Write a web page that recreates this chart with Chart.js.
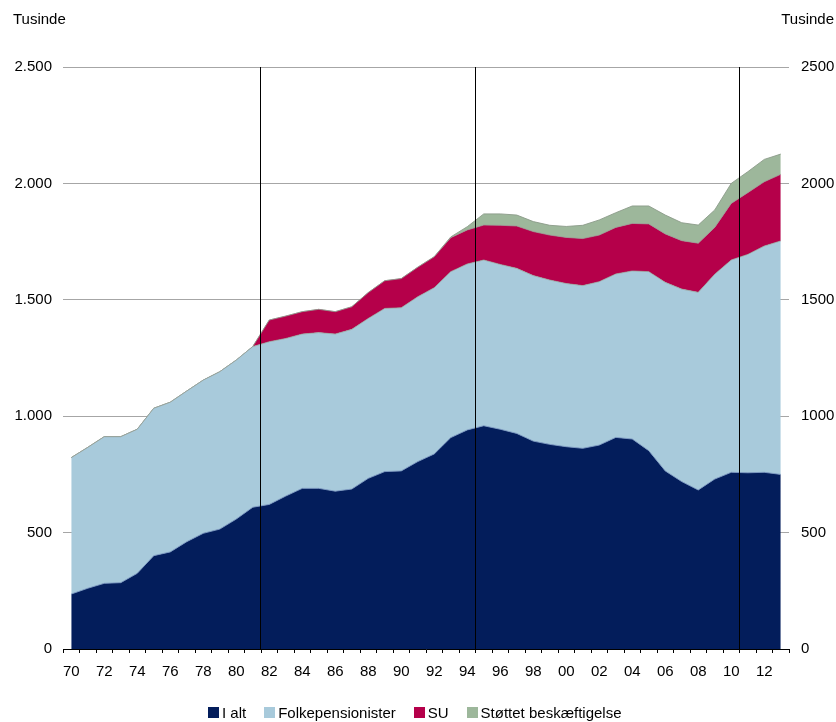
<!DOCTYPE html>
<html lang="da">
<head>
<meta charset="utf-8">
<script src="https://cdn.jsdelivr.net/npm/chart.js@4.4.1/dist/chart.umd.min.js"></script>
<style>
  body { margin: 0; background: #fff; font-family: "Liberation Sans", Arial, sans-serif; }
  #wrap { position: relative; width: 836px; height: 722px; }
  #legend { position: absolute; left: 208px; top: 704px; display: flex; align-items: center; font-size: 15px; color: #000; }
  #legend .item { display: flex; align-items: center; margin-right: 18px; }
  #legend .box { width: 11px; height: 11px; margin-right: 3px; }
</style>
</head>
<body>
<div id="wrap">
  <canvas id="chart"></canvas>
  <div id="legend"></div>
</div>
<script>
const years = ['1970','1971','1972','1973','1974','1975','1976','1977','1978','1979',
  '1980','1981','1982','1983','1984','1985','1986','1987','1988','1989',
  '1990','1991','1992','1993','1994','1995','1996','1997','1998','1999',
  '2000','2001','2002','2003','2004','2005','2006','2007','2008','2009',
  '2010','2011','2012','2013'];

const tickLabels = ['70','','72','','74','','76','','78','',
  '80','','82','','84','','86','','88','',
  '90','','92','','94','','96','','98','',
  '00','','02','','04','','06','','08','',
  '10','','12',''];

// tusinde personer
const iAlt = [236, 261, 282, 285, 325, 401, 417, 461, 497, 515,
  558, 609, 621, 657, 690, 690, 678, 687, 733, 762,
  765, 805, 838, 908, 941, 959, 944, 926, 893, 879,
  869, 862, 876, 909, 902, 852, 765, 719, 683, 730,
  759, 757, 759, 750];

const folkepensionister = [586, 605, 630, 627, 619, 633, 643, 647, 658, 676,
  683, 690, 699, 677, 663, 669, 675, 686, 687, 701,
  701, 708, 714, 713, 713, 712, 708, 709, 711, 706,
  701, 699, 702, 702, 722, 769, 810, 827, 849, 880,
  912, 938, 972, 1003];

const su = [0, 0, 0, 0, 0, 0, 0, 0, 0, 0,
  0, 0, 93, 96, 96, 100, 96, 97, 111, 119,
  125, 127, 133, 146, 146, 150, 168, 182, 189, 193,
  198, 202, 200, 200, 204, 205, 208, 208, 211, 201,
  243, 265, 276, 286];

const stoettet = [0, 0, 0, 0, 0, 0, 0, 0, 0, 0,
  0, 0, 0, 0, 0, 0, 0, 0, 0, 0,
  0, 0, 0, 3, 14, 48, 49, 47, 43, 42,
  47, 57, 65, 63, 75, 77, 81, 77, 78, 75,
  86, 90, 96, 87];

const seriesNames = ['I alt', 'Folkepensionister', 'SU', 'Støttet beskæftigelse'];
const seriesColors = ['#031d5b', '#a8cadb', '#b5004a', '#9db79b'];
const seriesBorders = ['rgba(125,155,195,0.9)', 'rgba(150,158,150,0.75)', 'rgba(150,160,150,0.75)', 'rgba(140,155,138,0.9)'];

// lodrette streger efter disse år
const markerAfter = ['1981', '1994', '2010'];

const FONT = { family: '"Liberation Sans", Arial, sans-serif', size: 15 };

function thousands(v) {
  return String(v).replace(/\B(?=(\d{3})+(?!\d))/g, '.');
}

const markerLines = {
  id: 'markerLines',
  afterDatasetsDraw(chart) {
    const x = chart.scales.x;
    const area = chart.chartArea;
    const ctx = chart.ctx;
    ctx.save();
    ctx.strokeStyle = '#000';
    ctx.lineWidth = 1;
    markerAfter.forEach(function (yr) {
      const i = years.indexOf(yr);
      const px = Math.round((x.getPixelForValue(i) + x.getPixelForValue(i + 1)) / 2) - 0.5;
      ctx.beginPath();
      ctx.moveTo(px, area.top);
      ctx.lineTo(px, area.bottom);
      ctx.stroke();
    });
    ctx.restore();
  }
};

const unitLabels = {
  id: 'unitLabels',
  afterDraw(chart) {
    const ctx = chart.ctx;
    ctx.save();
    ctx.font = FONT.size + 'px ' + FONT.family;
    ctx.fillStyle = '#000';
    ctx.textBaseline = 'alphabetic';
    ctx.textAlign = 'left';
    ctx.fillText('Tusinde', 13, 23.5);
    ctx.textAlign = 'right';
    ctx.fillText('Tusinde', 834, 23.5);
    ctx.restore();
  }
};

const seriesData = [iAlt, folkepensionister, su, stoettet];

const datasets = seriesData.map(function (d, i) {
  return {
    label: seriesNames[i],
    data: d,
    backgroundColor: seriesColors[i],
    borderColor: seriesBorders[i],
    borderWidth: 1,
    pointRadius: 0,
    tension: 0,
    fill: i === 0 ? 'origin' : '-1'
  };
});

new Chart(document.getElementById('chart'), {
  type: 'line',
  data: { labels: years, datasets: datasets },
  options: {
    responsive: true,
    maintainAspectRatio: false,
    animation: false,
    layout: { padding: { top: 67, left: 0, right: 0, bottom: 0 } },
    plugins: {
      legend: { display: false },
      tooltip: { enabled: false }
    },
    scales: {
      x: {
        offset: true,
        grid: { offset: true, drawOnChartArea: false, drawTicks: true, tickLength: 4, color: '#000' },
        border: { display: true, color: '#000', width: 1 },
        ticks: {
          autoSkip: false,
          maxRotation: 0,
          padding: 10,
          color: '#000',
          font: FONT,
          callback: function (v, i) { return tickLabels[i]; }
        },
        afterFit: function (s) { s.height = 73; }
      },
      y: {
        position: 'left',
        stacked: true,
        min: 0,
        max: 2500,
        grid: { color: '#a6a6a6', drawTicks: false },
        border: { display: false },
        ticks: { stepSize: 500, padding: 11, color: '#000', font: FONT, callback: thousands },
        afterFit: function (s) { s.width = 63; }
      },
      y2: {
        position: 'right',
        min: 0,
        max: 2500,
        grid: { display: false, drawTicks: false },
        border: { display: false },
        ticks: { stepSize: 500, padding: 12, color: '#000', font: FONT, callback: function (v) { return String(v); } },
        afterFit: function (s) { s.width = 47; }
      }
    }
  },
  plugins: [markerLines, unitLabels]
});

const legend = document.getElementById('legend');
seriesNames.forEach(function (name, i) {
  const item = document.createElement('div');
  item.className = 'item';
  const box = document.createElement('span');
  box.className = 'box';
  box.style.background = seriesColors[i];
  const txt = document.createElement('span');
  txt.textContent = name;
  item.appendChild(box);
  item.appendChild(txt);
  legend.appendChild(item);
});
</script>
</body>
</html>
